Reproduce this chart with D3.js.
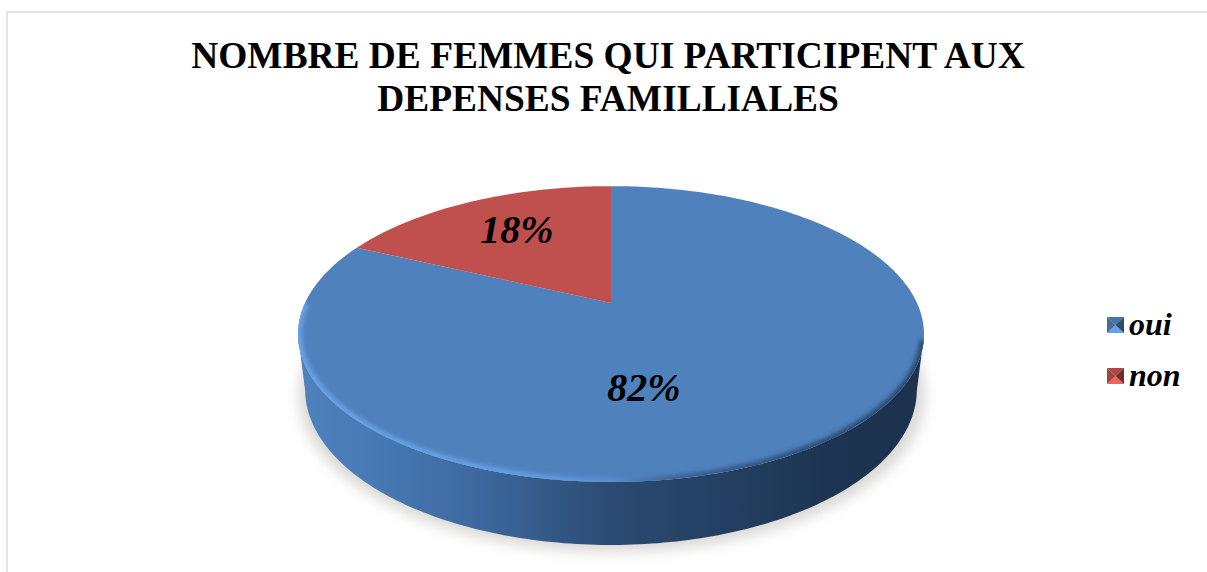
<!DOCTYPE html>
<html>
<head>
<meta charset="utf-8">
<script src="https://cdn.jsdelivr.net/npm/d3@7"></script>
<style>
	html, body { margin: 0; padding: 0; background: #fff; overflow: hidden; }
	text { font-family: "Liberation Serif", serif; fill: #000; }
</style>
</head>
<body>
<svg id="chart" width="1207" height="572"></svg>
<script>
const TITLE_LINES = ['NOMBRE DE FEMMES QUI PARTICIPENT AUX', 'DEPENSES FAMILLIALES'];
const CATEGORIES = ['oui', 'non'];
const VALUES = [82, 18];
const COLORS = ['#4f81bd', '#c0504d'];

const svg = d3.select('#chart');
const defs = svg.append('defs');

// frame of the chart, only left and top are in the picture
svg.append('path')
	.attr('d', 'M7,572V12H1207')
	.attr('fill', 'none')
	.attr('stroke', '#e2e2e2')
	.attr('stroke-width', 2);

// title
svg.append('g').selectAll('text')
	.data(TITLE_LINES)
	.enter()
	.append('text')
		.text(d => d)
		.attr('x', 608)
		.attr('y', (d, i) => 68 + i * 43)
		.attr('text-anchor', 'middle')
		.attr('font-size', 37.4)
		.attr('font-weight', 'bold');

// the disc is a unit circle seen in perspective, the far side looks smaller
const persp = 0.21;
function project(angle, r, o) {
	const u = r * Math.sin(angle);
	const v = -r * Math.cos(angle);
	const w = 1 - persp * v;
	return [o.cx + o.sx * u / w, o.cy + o.sy * v / w];
}
const top_disc = {cx: 611, cy: 303, sx: 306, sy: 141.4};
const bottom_disc = {cx: 611, cy: 357, sx: 299, sy: 148.5};

const line = d3.line();
const TWO_PI = 2 * Math.PI;

function arcPoints(a0, a1, o) {
	const n = Math.max(2, Math.ceil(Math.abs(a1 - a0) * 60));
	const step = d3.scaleLinear().domain([0, n]).range([a0, a1]);
	return d3.range(n + 1).map(i => project(step(i), 1, o));
}

// gradients and filters
const side_grad = defs.append('linearGradient')
	.attr('id', 'side')
	.attr('gradientUnits', 'userSpaceOnUse')
	.attr('x1', 300).attr('x2', 920).attr('y1', 0).attr('y2', 0);
[[0, '#4f81bd'], [0.14, '#4678b2'], [0.3, '#3c679c'], [0.5, '#2c4b72'], [0.7, '#233e60'], [0.85, '#1d3552'], [1, '#1c324e']]
	.forEach(s => side_grad.append('stop').attr('offset', s[0]).attr('stop-color', s[1]));

const rim_grad = defs.append('linearGradient')
	.attr('id', 'rim')
	.attr('gradientUnits', 'userSpaceOnUse')
	.attr('x1', 300).attr('x2', 920).attr('y1', 0).attr('y2', 0);
[[0, '#6aa3e6'], [0.35, '#659fe2'], [0.5, '#5a8fd0'], [0.6, '#3c6494'], [0.8, '#2f5079'], [1, '#2a4970']]
	.forEach(s => rim_grad.append('stop').attr('offset', s[0]).attr('stop-color', s[1]));

defs.append('filter').attr('id', 'blur_shadow')
	.attr('x', '-10%').attr('y', '-10%').attr('width', '120%').attr('height', '120%')
	.append('feGaussianBlur').attr('stdDeviation', 7);
defs.append('filter').attr('id', 'blur_rim')
	.attr('x', '-10%').attr('y', '-10%').attr('width', '120%').attr('height', '120%')
	.append('feGaussianBlur').attr('stdDeviation', 2);

const disc = svg.append('g');

// soft shadow under the disc
disc.append('path')
	.attr('d', line(arcPoints(0, TWO_PI, {cx: 612, cy: 362, sx: 306, sy: 150})) + 'Z')
	.attr('fill', '#b5b0a8')
	.attr('opacity', 0.5)
	.attr('filter', 'url(#blur_shadow)');

// side wall: front half of the top edge joined to front half of the bottom edge,
// the two ends sit where the edges are widest so the wall runs straight down
const bottom_half = arcPoints(Math.PI * 0.57, Math.PI * 1.43, bottom_disc);
const top_half = arcPoints(Math.PI * 1.43, Math.PI * 0.57, top_disc);
disc.append('path')
	.attr('d', line(top_half.concat(bottom_half)) + 'Z')
	.attr('fill', 'url(#side)');

// slices
const slices = d3.pie().sort(null)(VALUES);
const clip = defs.append('clipPath').attr('id', 'top_clip');
clip.append('path').attr('d', line(arcPoints(0, TWO_PI, top_disc)) + 'Z');

disc.append('g').selectAll('path')
	.data(slices)
	.enter()
	.append('path')
		.attr('d', d => line([[top_disc.cx, top_disc.cy]].concat(arcPoints(d.startAngle, d.endAngle, top_disc))) + 'Z')
		.attr('fill', (d, i) => COLORS[i]);

// bevel along the front edge of the top face
disc.append('g')
	.attr('clip-path', 'url(#top_clip)')
	.append('path')
		.attr('d', line(arcPoints(Math.PI * 0.58, Math.PI * 1.5, top_disc)))
		.attr('fill', 'none')
		.attr('stroke', 'url(#rim)')
		.attr('stroke-width', 8)
		.attr('filter', 'url(#blur_rim)');

// percentage labels
const LABEL_SPOTS = [[644, 401], [517, 243]];
svg.append('g').selectAll('text')
	.data(VALUES)
	.enter()
	.append('text')
		.text(d => d + '%')
		.attr('x', (d, i) => LABEL_SPOTS[i][0])
		.attr('y', (d, i) => LABEL_SPOTS[i][1])
		.attr('text-anchor', 'middle')
		.attr('font-size', 40)
		.attr('font-weight', 'bold')
		.attr('font-style', 'italic');

// legend, the swatches are little bevelled squares
const legend_y = d3.scalePoint().domain(CATEGORIES).range([325, 376]);
const legend = svg.append('g').selectAll('g')
	.data(CATEGORIES)
	.enter()
	.append('g')
		.attr('transform', d => `translate(1115.5,${legend_y(d)})`);

// positive numbers lighten a face, negative ones darken it
const SWATCH_FACES = [
	{pts: [[-8.5, -8], [8.5, -8], [0, 0]], shade: -0.3},
	{pts: [[-8.5, 8], [8.5, 8], [0, 0]], shade: 0.6},
	{pts: [[-8.5, -8], [-8.5, 8], [0, 0]], shade: -0.5},
	{pts: [[8.5, -8], [8.5, 8], [0, 0]], shade: -1.6}
];
legend.each(function(d, i) {
	d3.select(this).selectAll('path')
		.data(SWATCH_FACES)
		.enter()
		.append('path')
			.attr('d', f => line(f.pts) + 'Z')
			.attr('fill', f => d3.color(COLORS[i]).brighter(f.shade));
});
legend.append('text')
	.text(d => d)
	.attr('x', 13.5)
	.attr('y', 9.5)
	.attr('font-size', 32)
	.attr('font-weight', 'bold')
	.attr('font-style', 'italic');
</script>
</body>
</html>
